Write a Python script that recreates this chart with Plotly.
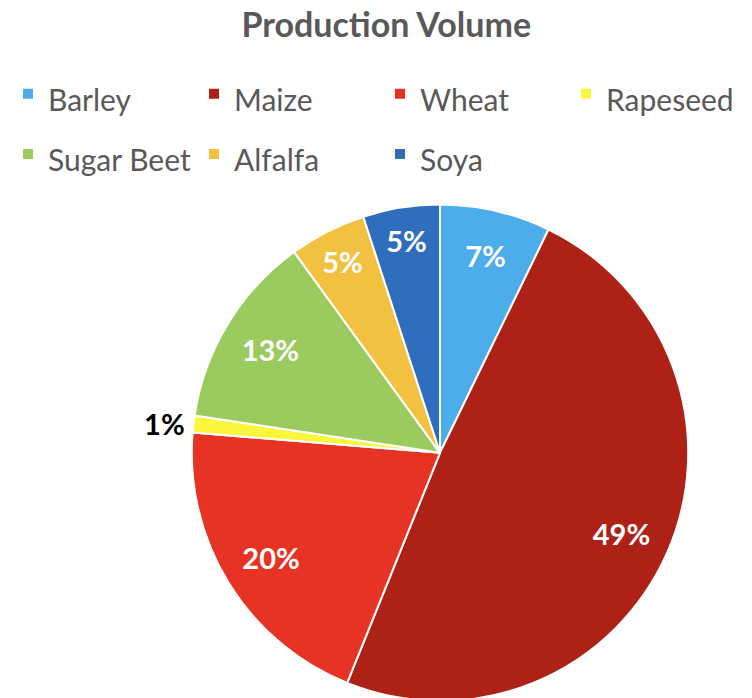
import plotly.graph_objects as go

labels = ["Barley", "Maize", "Wheat", "Rapeseed", "Sugar Beet", "Alfalfa", "Soya"]
values = [7.2, 48.9, 20.2, 1.1, 12.6, 5.0, 5.0]
colors = ["#4DACEA", "#AD2116", "#E63323", "#F9F73C", "#9BCB5E", "#F2C140", "#2E6EBD"]
positions = ["inside", "inside", "inside", "outside", "inside", "inside", "inside"]

legend_names = ['<span style="font-size:30px">%s</span>' % l for l in labels]
pie_domain = dict(x=[182 / 752, 682 / 752], y=[0, 500 / 698])

# Coloured pie (legend + wedges)
fig = go.Figure()
fig.add_trace(go.Pie(
    labels=legend_names,
    values=values,
    sort=False,
    direction="clockwise",
    rotation=0,
    domain=pie_domain,
    marker=dict(colors=colors, line=dict(color="white", width=2)),
    textinfo="none",
    hoverinfo="skip",
))

# Transparent ring on top that carries the percentage labels (placed in the outer ring)
fig.add_trace(go.Pie(
    labels=legend_names,
    values=values,
    sort=False,
    direction="clockwise",
    rotation=0,
    domain=pie_domain,
    hole=0.6,
    showlegend=False,
    marker=dict(colors=["rgba(0,0,0,0)"] * len(values), line=dict(width=0)),
    texttemplate="<b>%{percent:.0%}</b>",
    textposition=positions,
    insidetextorientation="horizontal",
    insidetextfont=dict(family="Lato", size=29, color="white"),
    outsidetextfont=dict(family="Lato", size=29, color="black"),
    hovertemplate="%{value}<extra></extra>",
))

fig.update_layout(
    width=752, height=698,
    paper_bgcolor="white",
    plot_bgcolor="white",
    margin=dict(l=0, r=0, t=0, b=0),
    title=dict(text="<b>Production Volume</b>", x=0.503, xanchor="center",
               y=0.975, yanchor="middle", yref="container",
               font=dict(family="Lato", size=34, color="#595959")),
    legend=dict(orientation="h",
                x=0.0, xanchor="left", y=0.927, yanchor="top",
                xref="paper", yref="paper",
                entrywidth=141, entrywidthmode="pixels",
                font=dict(family="Lato", size=44, color="#595959"),
                traceorder="normal"),
)

fig.write_html("out.html")
